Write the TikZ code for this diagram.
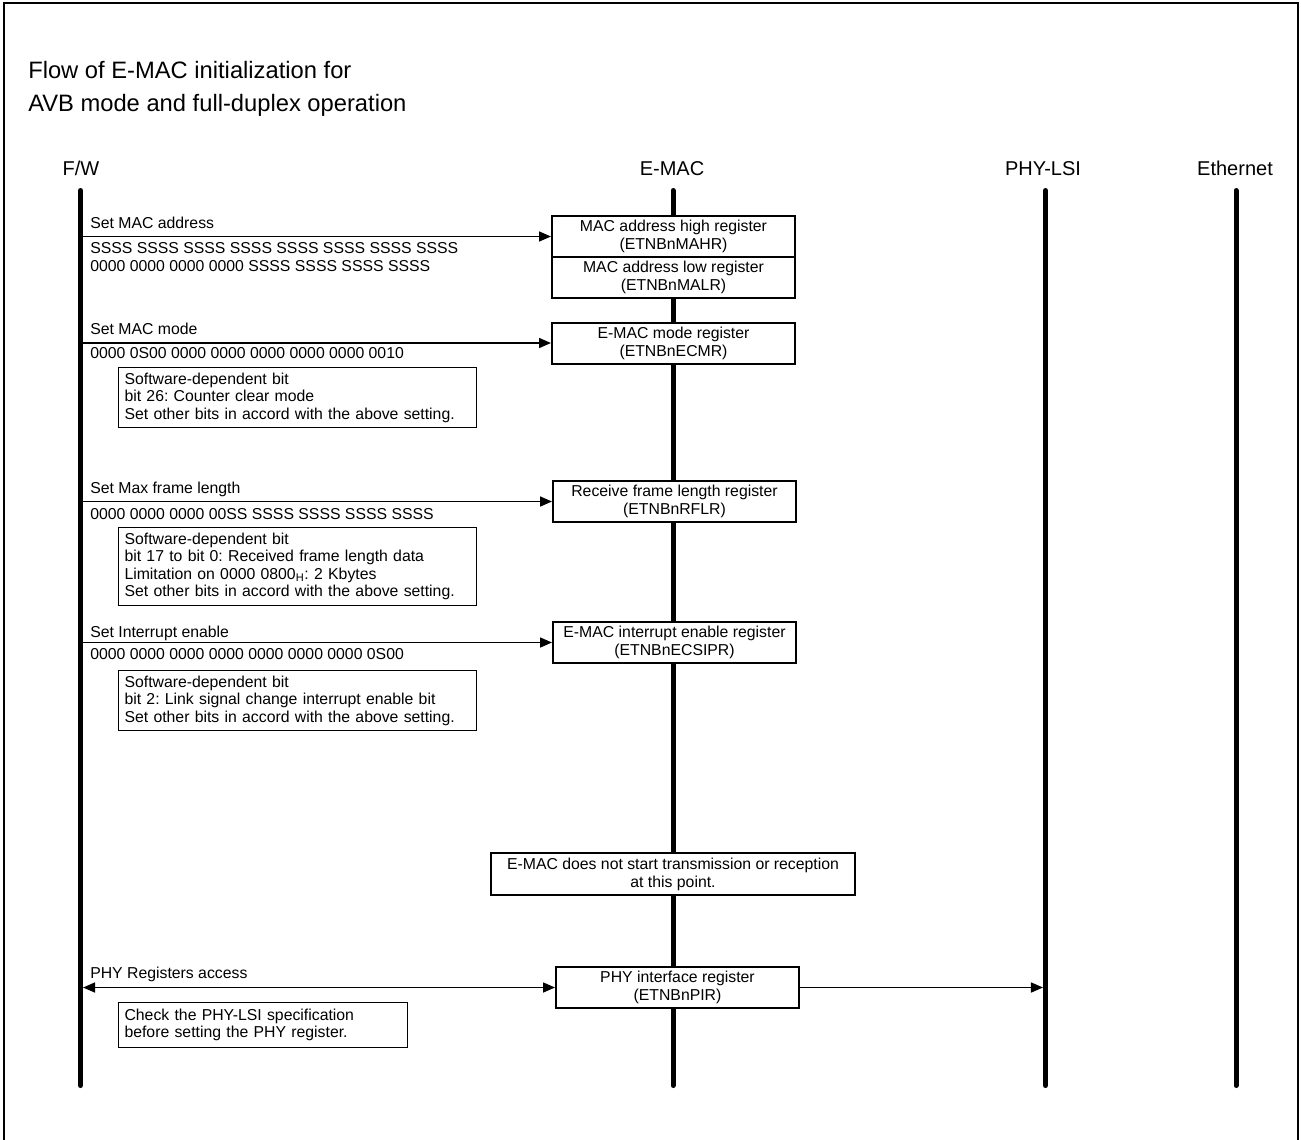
\documentclass[tikz,border=0pt]{standalone}
\usepackage{fontspec}
\setmainfont{Liberation Sans}
\usetikzlibrary{arrows.meta}
\frenchspacing
\newcommand\lblfont{\fontsize{11.85pt}{13.5pt}\selectfont}
\newcommand\notefont{\fontsize{11.85pt}{13.1pt}\selectfont}
\newcommand\headfont{\fontsize{15pt}{18pt}\selectfont}
\newcommand\titlefont{\fontsize{17.8pt}{24pt}\selectfont}
\begin{document}
\begin{tikzpicture}[x=0.75pt,y=-0.75pt,
  lifeline/.style={line width=3.75pt, line cap=round},
  regbox/.style={draw, line width=1.5pt, fill=white, minimum width=182.25pt, minimum height=30.75pt, align=center, font=\lblfont, inner sep=0pt},
  notebox/.style={draw, line width=0.8pt, fill=white, anchor=north west, align=left, font=\notefont, inner xsep=4.5pt, inner ysep=0pt},
  lbl/.style={anchor=base west, font=\lblfont, inner sep=0pt},
  head/.style={anchor=base, font=\headfont, inner sep=0pt},
  msg/.style={-{Triangle[length=9pt,width=7.5pt]}, line width=1.2pt},
  msgboth/.style={{Triangle[length=9pt,width=7.5pt]}-{Triangle[length=9pt,width=7.5pt]}, line width=1.2pt}]
\useasboundingbox (0,0) rectangle (1301,1139);
% frame
\draw[line width=1.5pt] (4,1142) -- (4,3) -- (1298,3) -- (1298,1142);
% title
\node[anchor=base west, font=\titlefont, inner sep=0pt] (title1) at (28,78) {Flow of E-MAC initialization for};
\node[anchor=base west, font=\titlefont, inner sep=0pt] (title2) at (28,111) {AVB mode and full-duplex operation};
% lifeline heads
\node[head] (hfw) at (81,175) {F/W};
\node[head] (hemac) at (672,175) {E-MAC};
\node[head] (hphy) at (1043,175) {PHY-LSI};
\node[head] (heth) at (1235,175) {Ethernet};
% lifelines
\coordinate (fwtop) at (80.5,190.5);  \coordinate (fwbot) at (80.5,1085.5);
\coordinate (emtop) at (673,190.5);   \coordinate (embot) at (673,1085.5);
\coordinate (phytop) at (1045.5,190.5); \coordinate (phybot) at (1045.5,1085.5);
\coordinate (ethtop) at (1236,190.5); \coordinate (ethbot) at (1236,1085.5);
\draw[lifeline] (fwtop) -- (fwbot);
\draw[lifeline] (emtop) -- (embot);
\draw[lifeline] (phytop) -- (phybot);
\draw[lifeline] (ethtop) -- (ethbot);
% register boxes
\node[regbox] (mahr) at (673.5,236.5) {MAC address high register\\(ETNBnMAHR)};
\node[regbox] (malr) at (673.5,277.5) {MAC address low register\\(ETNBnMALR)};
\node[regbox] (ecmr) at (673.5,343) {E-MAC mode register\\(ETNBnECMR)};
\node[regbox] (rflr) at (674.5,501.5) {Receive frame length register\\(ETNBnRFLR)};
\node[regbox] (ecsipr) at (674.5,642.5) {E-MAC interrupt enable register\\(ETNBnECSIPR)};
\node[regbox, minimum width=273pt, minimum height=31.5pt] (nostart) at (673,874) {E-MAC does not start transmission or reception\\at this point.};
\node[regbox] (pir) at (677.5,987.5) {PHY interface register\\(ETNBnPIR)};
% messages
\node[lbl] (l1) at (90,228) {Set MAC address};
\draw[msg] (fwtop |- mahr.west) -- (mahr.west);
\node[lbl] (v1a) at (90,253) {SSSS SSSS SSSS SSSS SSSS SSSS SSSS SSSS};
\node[lbl] (v1b) at (90,271) {0000 0000 0000 0000 SSSS SSSS SSSS SSSS};

\node[lbl] (l2) at (90,334) {Set MAC mode};
\draw[msg] (fwtop |- ecmr.west) -- (ecmr.west);
\node[lbl] (v2) at (90,358) {0000 0S00 0000 0000 0000 0000 0000 0010};
\node[notebox, text width=259.5pt, minimum height=45pt] (n1) at (118,367) {Software-dependent bit\\bit 26: Counter clear mode\\Set other bits in accord with the above setting.};

\node[lbl] (l3) at (90,493) {Set Max frame length};
\draw[msg] (fwtop |- rflr.west) -- (rflr.west);
\node[lbl] (v3) at (90,519) {0000 0000 0000 00SS SSSS SSSS SSSS SSSS};
\node[notebox, text width=259.5pt, minimum height=58.5pt] (n2) at (118,527) {Software-dependent bit\\bit 17 to bit 0: Received frame length data\\Limitation on 0000 0800\textsubscript{H}: 2 Kbytes\\Set other bits in accord with the above setting.};

\node[lbl] (l4) at (90,637) {Set Interrupt enable};
\draw[msg] (fwtop |- ecsipr.west) -- (ecsipr.west);
\node[lbl] (v4) at (90,659) {0000 0000 0000 0000 0000 0000 0000 0S00};
\node[notebox, text width=259.5pt, minimum height=45pt] (n3) at (118,670) {Software-dependent bit\\bit 2: Link signal change interrupt enable bit\\Set other bits in accord with the above setting.};

\node[lbl] (l5) at (90,978) {PHY Registers access};
\draw[msgboth] ([xshift=1.9pt]fwtop |- pir.west) -- (pir.west);
\draw[msg] (pir.east) -- ([xshift=-1.9pt]phytop |- pir.east);
\node[notebox, text width=207.75pt, minimum height=33.75pt] (n4) at (118,1002) {Check the PHY-LSI specification\\before setting the PHY register.};
\end{tikzpicture}
\end{document}
